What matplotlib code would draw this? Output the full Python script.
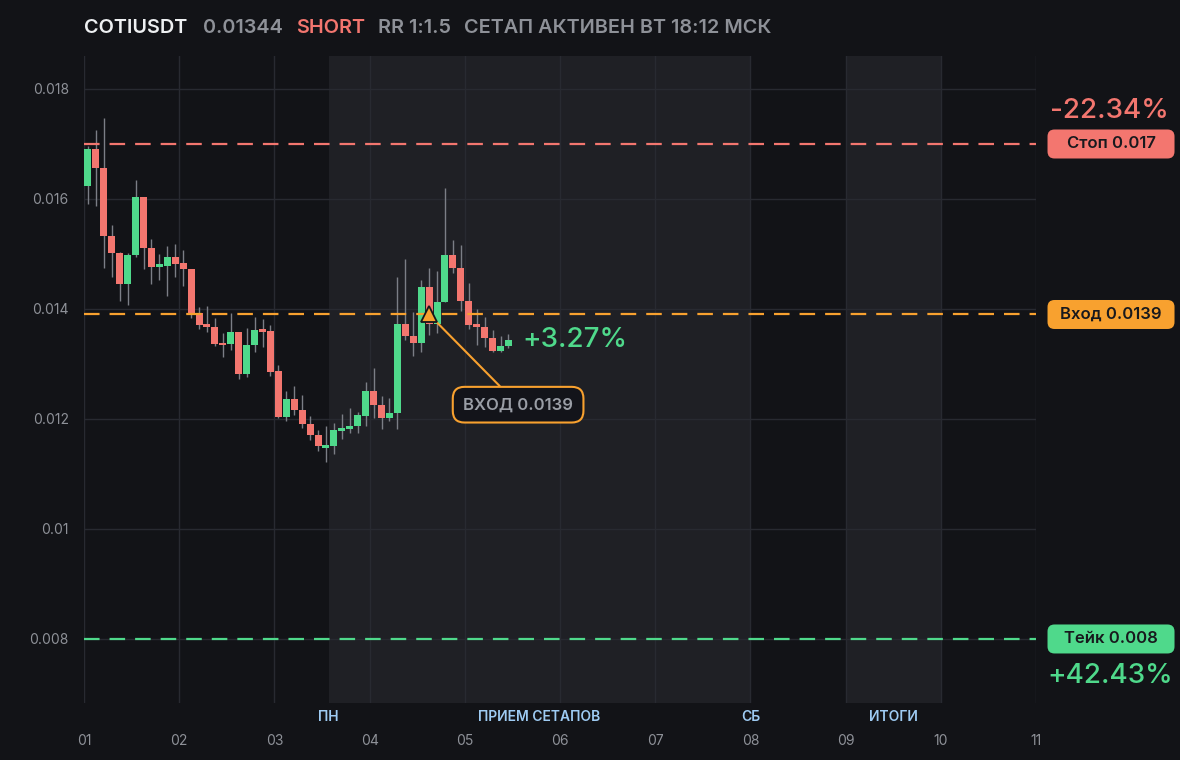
import matplotlib.pyplot as plt
import matplotlib.transforms as mtransforms
from matplotlib.patches import FancyBboxPatch

# candles, 2h each, 12 per day starting at day 01
opens = [0.01624, 0.01691, 0.01657, 0.01533, 0.01502, 0.01446, 0.01498, 0.01604, 0.01510, 0.01477,
         0.01479, 0.01495, 0.01483, 0.01473, 0.01392, 0.01370, 0.01368, 0.01337, 0.01337, 0.01358,
         0.01282, 0.01335, 0.01362, 0.01360, 0.01287, 0.01204, 0.01236, 0.01216, 0.01190, 0.01170,
         0.01148, 0.01150, 0.01179, 0.01181, 0.01187, 0.01206, 0.01251, 0.01226, 0.01202, 0.01210,
         0.01373, 0.01350, 0.01339, 0.01440, 0.01372, 0.01412, 0.01498, 0.01475, 0.01415, 0.01370,
         0.01368, 0.01348, 0.01324, 0.01332]
highs = [0.01696, 0.01725, 0.01747, 0.01553, 0.01503, 0.01502, 0.01635, 0.01604, 0.01527, 0.01500,
         0.01515, 0.01518, 0.01507, 0.01473, 0.01404, 0.01406, 0.01384, 0.01357, 0.01393, 0.01358,
         0.01366, 0.01386, 0.01382, 0.01370, 0.01298, 0.01251, 0.01260, 0.01244, 0.01206, 0.01180,
         0.01187, 0.01193, 0.01209, 0.01220, 0.01213, 0.01267, 0.01293, 0.01242, 0.01238, 0.01458,
         0.01491, 0.01395, 0.01452, 0.01475, 0.01469, 0.01620, 0.01526, 0.01516, 0.01447, 0.01400,
         0.01386, 0.01362, 0.01350, 0.01355]
lows = [0.01591, 0.01587, 0.01475, 0.01459, 0.01415, 0.01408, 0.01495, 0.01473, 0.01446, 0.01452,
        0.01424, 0.01459, 0.01441, 0.01384, 0.01364, 0.01359, 0.01333, 0.01313, 0.01326, 0.01272,
        0.01277, 0.01322, 0.01330, 0.01279, 0.01201, 0.01197, 0.01207, 0.01184, 0.01162, 0.01142,
        0.01122, 0.01137, 0.01164, 0.01175, 0.01175, 0.01188, 0.01201, 0.01181, 0.01197, 0.01181,
        0.01344, 0.01315, 0.01321, 0.01353, 0.01356, 0.01412, 0.01466, 0.01397, 0.01363, 0.01335,
        0.01331, 0.01322, 0.01321, 0.01329]
closes = [0.01691, 0.01657, 0.01533, 0.01502, 0.01446, 0.01498, 0.01604, 0.01510, 0.01477, 0.01480,
          0.01495, 0.01482, 0.01473, 0.01392, 0.01370, 0.01368, 0.01337, 0.01335, 0.01358, 0.01282,
          0.01335, 0.01362, 0.01359, 0.01286, 0.01204, 0.01236, 0.01216, 0.01190, 0.01170, 0.01150,
          0.01152, 0.01180, 0.01182, 0.01187, 0.01207, 0.01251, 0.01226, 0.01202, 0.01211, 0.01373,
          0.01350, 0.01339, 0.01440, 0.01372, 0.01413, 0.01498, 0.01475, 0.01415, 0.01370, 0.01368,
          0.01348, 0.01324, 0.01333, 0.01344]

stop_price = 0.017
entry_price = 0.0139
take_price = 0.008
entry_idx = 43
stop_pct = '-22.34%'
take_pct = '+42.43%'
now_pct = '+3.27%'

days = list(range(1, 12))
day_labels = ['01', '02', '03', '04', '05', '06', '07', '08', '09', '10', '11']
yticks = [0.008, 0.01, 0.012, 0.014, 0.016, 0.018]
ytick_labels = ['0.008', '0.01', '0.012', '0.014', '0.016', '0.018']

shades = [(3.57, 8.0), (9.0, 10.0)]
session_names = ['ПН', 'ПРИЕМ СЕТАПОВ', 'СБ', 'ИТОГИ']
session_pos = [3.57, 5.785, 8.0, 9.5]

header = ['COTIUSDT', '0.01344', 'SHORT', 'RR 1:1.5', 'СЕТАП АКТИВЕН ВТ 18:12 МСК']
header_x = [84, 203, 296, 378, 464]

BG = '#121317'
SHADE = '#1f2025'
GRID = '#282a31'
GREEN = '#4fd98b'
RED = '#f3766f'
ORANGE = '#f8a12f'
GREY = '#8e9198'

plt.rcParams['font.family'] = ['Inter', 'DejaVu Sans']

fig = plt.figure(figsize=(11.8, 7.6), dpi=100, facecolor=BG)
ax = fig.add_axes([84 / 1180, 57 / 760, 952 / 1180, 647 / 760])
ax.set_facecolor(BG)

for a, b in shades:
    ax.axvspan(a, b, color=SHADE, zorder=0, lw=0)

ax.set_xlim(1, 11)
ax.set_ylim(0.006836, 0.0186)
ax.set_xticks(days)
ax.set_xticklabels(day_labels)
ax.set_yticks(yticks)
ax.set_yticklabels(ytick_labels)
ax.grid(True, color=GRID, lw=1)
ax.set_axisbelow(True)
for s in ax.spines.values():
    s.set_visible(False)
ax.tick_params(axis='both', length=0, colors=GREY, labelsize=10)
ax.tick_params(axis='x', pad=22)
ax.tick_params(axis='y', pad=11)

# candles
step = 1 / 12
xs = [1 + (i + 0.5) * step for i in range(len(opens))]
ax.vlines(xs, lows, highs, color='#7b7e86', lw=1, zorder=2)
for x, o, c in zip(xs, opens, closes):
    col = GREEN if c >= o else RED
    h = max(abs(c - o), 0.00004)
    ax.bar(x, h, bottom=min(o, c), width=step * 0.88, color=col, zorder=3, lw=0)

# levels
for price, col in [(stop_price, RED), (entry_price, ORANGE), (take_price, GREEN)]:
    ax.axhline(price, color=col, lw=1.6, ls=(0, (7, 4.5)), zorder=4)

# right side price pills
def pill(price, text, col):
    tr = mtransforms.Affine2D() + mtransforms.ScaledTranslation(1.0788, price, ax.get_yaxis_transform())
    box = FancyBboxPatch((-63.5, -14.5), 127, 29, boxstyle='round,pad=0,rounding_size=7',
                         transform=tr, fc=col, ec='none', clip_on=False, zorder=5)
    ax.add_artist(box)
    ax.annotate(text, xy=(1.0788, price), xycoords=ax.get_yaxis_transform(), ha='center', va='center',
                fontsize=12, fontweight='semibold', color='#18191d', annotation_clip=False, zorder=6)

pill(stop_price, 'Стоп 0.017', RED)
pill(entry_price, 'Вход 0.0139', ORANGE)
pill(take_price, 'Тейк 0.008', GREEN)

ax.annotate(stop_pct, xy=(1.0775, stop_price), xycoords=ax.get_yaxis_transform(), xytext=(0, 23.5),
            textcoords='offset points', ha='center', va='center', fontsize=20, color=RED,
            fontweight=500, annotation_clip=False)
ax.annotate(take_pct, xy=(1.0775, take_price), xycoords=ax.get_yaxis_transform(), xytext=(0, -27),
            textcoords='offset points', ha='center', va='center', fontsize=20, color=GREEN,
            fontweight=500, annotation_clip=False)
ax.annotate(now_pct, xy=(xs[-1], closes[-1]), xytext=(10, 0), textcoords='offset points',
            ha='left', va='center', fontsize=20, color=GREEN, fontweight=500)

# entry marker and callout
ax.plot(xs[entry_idx], entry_price, marker='^', ms=12, mfc=ORANGE, mec='#15161a', mew=1.3, zorder=7)
ax.annotate('ВХОД 0.0139', xy=(xs[entry_idx], entry_price), xytext=(5.56, 0.01226),
            ha='center', va='center', fontsize=12, fontweight='semibold', color='#9a9ea6',
            bbox=dict(boxstyle='round,pad=0.62,rounding_size=0.7', fc='#13141a', ec=ORANGE, lw=1.5),
            arrowprops=dict(arrowstyle='-', color=ORANGE, lw=1.5, shrinkA=0, shrinkB=0), zorder=6)

# session labels under the axis
for name, pos in zip(session_names, session_pos):
    ax.annotate(name, xy=(pos, 0), xycoords=('data', 'axes fraction'), xytext=(0, -10),
                textcoords='offset points', ha='center', va='center', fontsize=10,
                fontweight='semibold', color='#9ecbf3', annotation_clip=False)

# header
header_colors = ['#eef0f2', GREY, RED, GREY, GREY]
for txt, hx, col in zip(header, header_x, header_colors):
    fig.text(hx / 1180, 1 - 28 / 760, txt, ha='left', va='center', fontsize=14.3,
             fontweight='semibold', color=col)

fig.savefig('out.png', dpi=100, facecolor=BG)
